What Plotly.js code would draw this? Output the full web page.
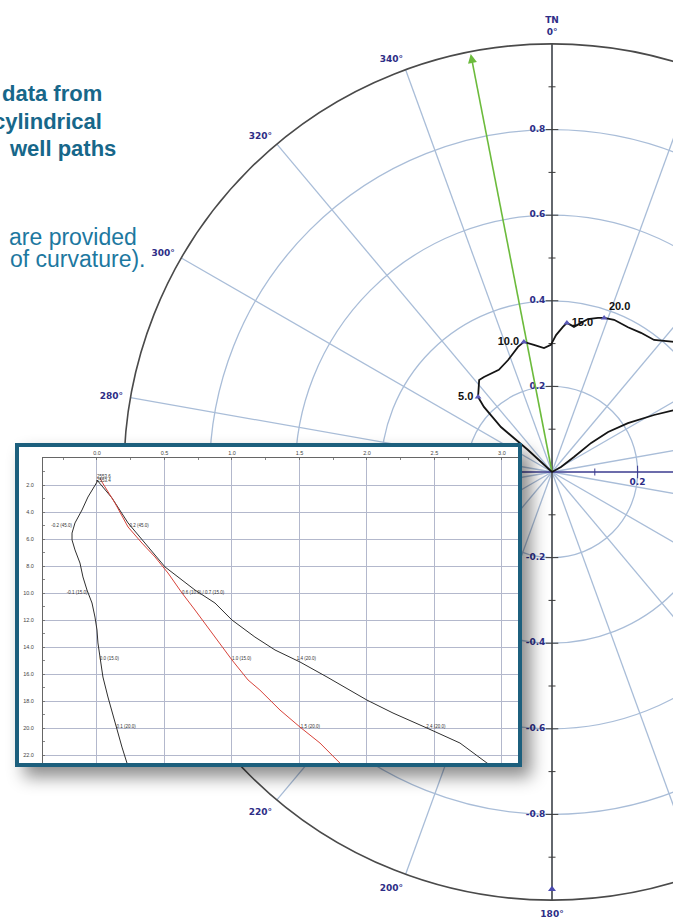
<!DOCTYPE html>
<html>
<head>
<meta charset="utf-8">
<script src="https://cdn.plot.ly/plotly-3.0.1.min.js"></script>
<style>
html, body { margin: 0; padding: 0; width: 673px; height: 919px; overflow: hidden; background: #fff; }
#plan { position: absolute; left: 0; top: 0; width: 1000px; height: 919px; }
#section { position: absolute; left: 15px; top: 443px; width: 499px; height: 316px;
  border: 4px solid #1c5f7d; background: #fff; box-shadow: 9px 10px 16px rgba(0,0,0,0.45); }
</style>
</head>
<body>
<div id="plan"></div>
<div id="section"></div>
<script>
// ---------- Plan view (polar): closure distance vs. azimuth ----------
const planTheta = [0, 312.5, 311.4, 313.7, 315.4, 321.6, 324.4, 332.5, 338.6, 344.8, 347.8, 351.9, 356.3, 359.5,
                   1.7, 4.3, 5.7, 7.4, 8.6, 11.0, 13.2, 16.6, 18.7, 22.2, 27.7, 32.6, 37.7, 43.2, 49.6];
const planR = [0, 0.076, 0.159, 0.220, 0.246, 0.274, 0.273, 0.269, 0.281, 0.303, 0.311, 0.300, 0.290, 0.297,
               0.320, 0.340, 0.350, 0.346, 0.343, 0.355, 0.367, 0.376, 0.380, 0.384, 0.382, 0.386, 0.390, 0.417, 0.457];

const branchTheta = [0, 60.9, 55.7, 53.4, 54.5, 57.2, 60.8, 63.1, 65.8];
const branchR = [0, 0.024, 0.062, 0.114, 0.161, 0.211, 0.273, 0.320, 0.382];

const stationLabels = ['5.0', '10.0', '15.0', '20.0'];
const stationR = [0.246, 0.311, 0.350, 0.380];
const stationTheta = [315.4, 347.8, 5.7, 18.7];
const stationTextPos = ['middle left', 'middle left', 'middle right', 'top right'];

const targetAzimuth = 349;
const targetLength = 1.0;

const ringValues = [0.2, 0.4, 0.6, 0.8];
const northLabels = ['0.2', '0.4', '0.6', '0.8'];
const southLabels = ['-0.2', '-0.4', '-0.6', '-0.8'];
const eastLabels = ['0.2'];
const eastValues = [0.2];
const minorValues = [0.1, 0.3, 0.5, 0.7, 0.9];

// spokes every 20°; the eastern half of the rose carries no printed labels
const azimuthTicks = [0, 20, 40, 60, 80, 100, 120, 140, 160, 180, 200, 220, 240, 260, 280, 300, 320, 340];
const azimuthText = ['TN<br>0°', '', '', '', '', '', '', '', '', '180°',
                     '200°', '220°', '240°', '260°', '280°', '300°', '320°', '340°'];

// ---------- Vertical section (inset): offset vs. depth ----------
const leftX = [0.0, 0.0, -0.067, -0.111, -0.163, -0.185, -0.185, -0.163, -0.126, -0.104, -0.074, -0.037, -0.015,
               0.0, 0.007, 0.022, 0.044, 0.081, 0.133, 0.185, 0.222, 0.24];
const leftY = [1.63, 1.78, 2.89, 3.85, 4.81, 5.56, 6.07, 6.81, 7.78, 8.81, 9.78, 10.74, 11.78,
               12.74, 13.70, 14.74, 16.22, 17.70, 19.63, 21.41, 22.59, 23.2];

const rightX = [0.0, 0.111, 0.230, 0.378, 0.504, 0.630, 0.726, 0.874, 1.0, 1.170, 1.319, 1.504, 1.704,
                2.0, 2.193, 2.444, 2.689, 2.889, 3.0];
const rightY = [1.63, 2.96, 4.81, 6.59, 8.07, 9.04, 9.78, 10.74, 12.0, 13.26, 14.22, 15.11, 16.22,
                17.93, 18.89, 20.0, 21.11, 22.59, 23.3];

const redX = [0.022, 0.037, 0.133, 0.230, 0.333, 0.430, 0.526, 0.630, 0.726, 0.874, 1.0, 1.119, 1.207,
              1.356, 1.504, 1.652, 1.8, 1.86];
const redY = [1.48, 1.78, 3.33, 5.11, 6.30, 7.33, 8.52, 10.0, 11.26, 13.26, 14.96, 16.44, 17.19,
              18.67, 19.93, 21.11, 22.59, 23.2];

const noteText = ['2553.6', '2553.4', '-0.2 (45.0)', '0.2 (45.0)', '-0.1 (15.0)', '0.6 (10.0) / 0.7 (15.0)',
                  '0.0 (15.0)', '1.0 (15.0)', '1.4 (20.0)', '0.1 (20.0)', '1.5 (20.0)', '2.4 (20.0)'];
const noteX = [0.0, 0.0, -0.185, 0.24, -0.07, 0.63, 0.02, 1.0, 1.48, 0.145, 1.51, 2.44];
const noteY = [1.4, 1.72, 5.0, 5.0, 10.0, 10.0, 14.9, 14.9, 14.9, 19.9, 19.9, 19.9];
const notePos = ['middle right', 'middle right', 'middle left', 'middle right', 'middle left', 'middle right',
                 'middle right', 'middle right', 'middle right', 'middle right', 'middle right', 'middle right'];

const sectionXTicks = [0, 0.5, 1, 1.5, 2, 2.5, 3];
const sectionYTicks = [2, 4, 6, 8, 10, 12, 14, 16, 18, 20, 22];

// ---------- draw plan view ----------
const navy = '#2d2d86';
const gridBlue = '#a9bdd8';
const rep = (v, n) => Array(n).fill(v);
const labelFont = { family: 'DejaVu Sans', size: 9, color: navy, weight: 'bold' };

const planTraces = [
  { type: 'scatterpolar', mode: 'lines', r: [1, 0, 1], theta: [270, 270, 90],
    line: { color: '#3b3b8f', width: 1.6 }, cliponaxis: false },
  { type: 'scatterpolar', mode: 'lines', r: [1, 0, 1], theta: [0, 0, 180],
    line: { color: '#3a3a3a', width: 1.4 }, cliponaxis: false },
  // minor ticks on the axes
  { type: 'scatterpolar', mode: 'markers', r: minorValues.concat(minorValues),
    theta: rep(0, minorValues.length).concat(rep(180, minorValues.length)),
    marker: { symbol: 'line-ew', size: 5, color: '#3a3a3a', line: { width: 1, color: '#3a3a3a' } } },
  { type: 'scatterpolar', mode: 'markers', r: [0.1], theta: [90],
    marker: { symbol: 'line-ns', size: 5, color: '#3b3b8f', line: { width: 1, color: '#3b3b8f' } } },
  // labelled ticks
  { type: 'scatterpolar', mode: 'markers+text', r: ringValues.concat(ringValues),
    theta: rep(0, ringValues.length).concat(rep(180, ringValues.length)),
    text: northLabels.concat(southLabels), textposition: 'middle left',
    textfont: labelFont,
    marker: { symbol: 'line-ew', size: 9, color: '#3a3a3a', line: { width: 1, color: '#3a3a3a' } } },
  { type: 'scatterpolar', mode: 'markers+text', r: eastValues, theta: [90],
    text: eastLabels, textposition: 'bottom center',
    textfont: labelFont,
    marker: { symbol: 'line-ns', size: 9, color: '#3b3b8f', line: { width: 1, color: '#3b3b8f' } } },
  // target direction
  { type: 'scatterpolar', mode: 'lines', r: [0, targetLength - 0.01], theta: [targetAzimuth, targetAzimuth],
    line: { color: '#6cbb3c', width: 1.6 } },
  { type: 'scatterpolar', mode: 'markers', r: [targetLength - 0.005], theta: [targetAzimuth],
    marker: { symbol: 'arrow-up', size: 9, angle: targetAzimuth - 360, color: '#6cbb3c' }, cliponaxis: false },
  // south marker
  { type: 'scatterpolar', mode: 'markers', r: [0.975], theta: [180],
    marker: { symbol: 'triangle-up', size: 7, color: '#4a4ab0' }, cliponaxis: false },
  // well paths
  { type: 'scatterpolar', mode: 'lines', r: branchR, theta: branchTheta,
    line: { color: '#151515', width: 1.8 }, cliponaxis: false },
  { type: 'scatterpolar', mode: 'lines', r: planR, theta: planTheta,
    line: { color: '#151515', width: 1.8 }, cliponaxis: false },
  { type: 'scatterpolar', mode: 'markers+text', r: stationR, theta: stationTheta,
    text: stationLabels, textposition: stationTextPos,
    textfont: { family: 'Liberation Sans', size: 11, color: '#111', weight: 'bold' },
    marker: { symbol: 'triangle-up', size: 6, color: '#5a5ab8' }, cliponaxis: false }
];

const W = 1000, H = 919;
const teal = '#17678a';
function note(text, xr, ymid, size, bold) {
  return { text: bold ? '<b>' + text + '</b>' : text, xref: 'paper', yref: 'paper',
    x: xr / W, y: 1 - ymid / H, xanchor: 'right', yanchor: 'middle', showarrow: false,
    font: { family: 'Liberation Sans', size: size, color: bold ? teal : '#1d78a0' } };
}

const planLayout = {
  width: W, height: H, margin: { l: 0, r: 0, t: 0, b: 0 },
  paper_bgcolor: '#fff', showlegend: false,
  polar: {
    domain: { x: [0.124, 0.980], y: [1 - 900 / H, 1 - 44 / H] },
    bgcolor: '#fff',
    radialaxis: { range: [0, 1], tickvals: ringValues, showticklabels: false, ticks: '',
      showline: false, gridcolor: gridBlue, gridwidth: 1.3 },
    angularaxis: { rotation: 90, direction: 'clockwise', tickmode: 'array', tickvals: azimuthTicks,
      ticktext: azimuthText, ticks: 'outside', ticklen: 5, tickcolor: 'rgba(0,0,0,0)',
      showline: true, linecolor: '#4a4a4a', linewidth: 1.6,
      gridcolor: gridBlue, gridwidth: 1.3,
      tickfont: labelFont }
  },
  annotations: [
    note('data from', 104, 94, 22, true),
    note('cylindrical', 104, 121, 22, true),
    note('well paths', 118, 148, 22, true),
    note('are provided', 139, 237, 23, false),
    note('of curvature).', 148, 259, 23, false)
  ]
};

Plotly.newPlot('plan', planTraces, planLayout, { staticPlot: true });

// ---------- draw vertical section ----------
const tinyFont = { family: 'Liberation Sans', size: 4.5, color: '#333' };
const sectionTraces = [
  { type: 'scatter', mode: 'lines', x: leftX, y: leftY, line: { color: '#2f2f2f', width: 1 } },
  { type: 'scatter', mode: 'lines', x: rightX, y: rightY, line: { color: '#2f2f2f', width: 1 } },
  { type: 'scatter', mode: 'lines', x: redX, y: redY, line: { color: '#d8433a', width: 1 } },
  { type: 'scatter', mode: 'text', x: noteX, y: noteY, text: noteText, textposition: notePos,
    textfont: tinyFont }
];

const sectionLayout = {
  width: 499, height: 316, margin: { l: 24, r: 0, t: 11, b: 0 },
  paper_bgcolor: '#fff', plot_bgcolor: '#fff', showlegend: false,
  xaxis: { side: 'top', range: [-0.4, 3.119], tickvals: sectionXTicks, tickformat: '.1f',
    showgrid: true, gridcolor: '#b3b8cc', gridwidth: 1, zeroline: false,
    showline: true, linecolor: '#666', linewidth: 1, ticks: 'inside', ticklen: 2, tickcolor: '#777',
    minor: { dtick: 0.25, ticks: 'inside', ticklen: 2, tickcolor: '#888', showgrid: false },
    tickfont: { family: 'Liberation Sans', size: 5.5, color: '#444' }, automargin: false },
  yaxis: { range: [22.59, 0], tickvals: sectionYTicks, tickformat: '.1f',
    showgrid: true, gridcolor: '#b3b8cc', gridwidth: 1, zeroline: false,
    showline: true, linecolor: '#666', linewidth: 1, ticks: 'inside', ticklen: 2, tickcolor: '#777',
    minor: { dtick: 1, ticks: 'inside', ticklen: 2, tickcolor: '#888', showgrid: false },
    ticklabelstandoff: 7,
    tickfont: { family: 'Liberation Sans', size: 5.5, color: '#444' }, automargin: false }
};

Plotly.newPlot('section', sectionTraces, sectionLayout, { staticPlot: true });
</script>
</body>
</html>
